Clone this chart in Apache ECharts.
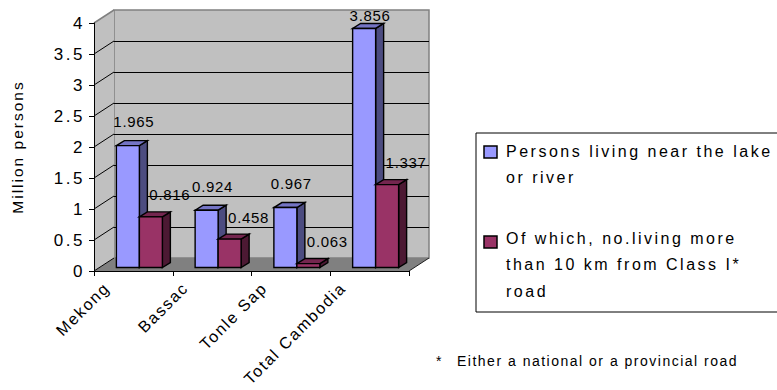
<!DOCTYPE html>
<html>
<head>
<meta charset="utf-8">
<script src="https://cdn.jsdelivr.net/npm/echarts@6/dist/echarts.min.js"></script>
<style>
  html, body { margin: 0; padding: 0; background: #ffffff; }
  #chart { width: 777px; height: 390px; }
  /* the chart's text is set wide, with open letter spacing */
  #chart text { letter-spacing: 2px; }
  #chart text[style*="17px"] { letter-spacing: 2.5px; }
  #chart text[style*="16px"] { letter-spacing: 2.5px; }
  #chart text[style*="15.5px"] { letter-spacing: 2px; }
  #chart text[style*="15px"] { letter-spacing: 0.7px; }
  #chart text[style*="14px"] { letter-spacing: 1.5px; }
  #chart text[style*="16.2px"] { letter-spacing: 1.7px; }
</style>
</head>
<body>
<div id="chart"></div>
<script>
// ---- data ----
const categories = ['Mekong', 'Bassac', 'Tonle Sap', 'Total Cambodia'];
const nearWater = [1.965, 0.924, 0.967, 3.856];
const farFromRoad = [0.816, 0.458, 0.063, 1.337];
const yMin = 0, yMax = 4, yStep = 0.5;
const yName = 'Million persons';
const legendNames = [
  'Persons living near the lake\nor river',
  'Of which, no.living more\nthan 10 km from Class I*\nroad'
];
const footnoteMark = '*';
const footnoteText = 'Either a national or a provincial road';

// ---- 3D look ----
const FONT = 'Liberation Sans, Arial, sans-serif';
const WALL_DEPTH = [20, -13];     // offset of the back wall from the front plane
const BAR_SHIFT = [5, -3.5];      // bars stand a little behind the front plane
const BAR_DEPTH = [8, -5];        // thickness of each column
const BAR_FRAC = 0.292;           // column width as a share of the category band
const palette = [
  { front: '#9999ff', side: '#4c4c80', top: '#7474c4' },
  { front: '#993366', side: '#4c1933', top: '#74264f' }
];
const LABEL_DX = [6, 19];
const LABEL_DY = [24, 22];

const chart = echarts.init(document.getElementById('chart'), null, { renderer: 'svg' });

function wallRenderer(params, api) {
  const cs = params.coordSys;
  const x = cs.x, y = cs.y, w = cs.width, h = cs.height;
  const dx = WALL_DEPTH[0], dy = WALL_DEPTH[1];
  const children = [];
  // floor
  children.push({
    type: 'polygon',
    shape: { points: [[x, y + h], [x + w, y + h], [x + w + dx, y + h + dy], [x + dx, y + h + dy]] },
    style: { fill: '#808080', stroke: null }
  });
  // left side wall
  children.push({
    type: 'polygon',
    shape: { points: [[x, y], [x + dx, y + dy], [x + dx, y + h + dy], [x, y + h]] },
    style: { fill: '#c0c0c0', stroke: null }
  });
  // diagonal grid lines on the side wall
  for (let v = yMin; v < yMax - 1e-9; v += yStep) {
    const py = api.coord([0, v])[1];
    children.push({
      type: 'line',
      shape: { x1: x, y1: py, x2: x + dx, y2: py + dy },
      style: { stroke: '#000', lineWidth: 1 }
    });
  }
  // upper edge of the side wall
  children.push({
    type: 'line',
    shape: { x1: x, y1: y, x2: x + dx, y2: y + dy },
    style: { stroke: '#808080', lineWidth: 1.5 }
  });
  // right edge of the floor
  children.push({
    type: 'line',
    shape: { x1: x + w, y1: y + h, x2: x + w + dx, y2: y + h + dy },
    style: { stroke: '#202020', lineWidth: 1 }
  });
  return { type: 'group', children: children };
}

function barRenderer(idx) {
  const col = palette[idx];
  return function (params, api) {
    const cat = api.value(0);
    const val = api.value(1);
    const basePt = api.coord([cat, 0]);
    const topY = api.coord([cat, val])[1];
    const band = api.size([1, 0])[0];
    const w = band * BAR_FRAC;
    const x0 = basePt[0] + (idx === 0 ? -w : 0) + 1 + BAR_SHIFT[0];
    const yT = topY + BAR_SHIFT[1];
    const yB = basePt[1] + BAR_SHIFT[1];
    const ddx = BAR_DEPTH[0], ddy = BAR_DEPTH[1];
    const edge = { stroke: '#000', lineWidth: 1.4, lineJoin: 'miter' };
    return {
      type: 'group',
      children: [
        {
          type: 'polygon',
          shape: { points: [[x0 + w, yT], [x0 + w + ddx, yT + ddy], [x0 + w + ddx, yB + ddy], [x0 + w, yB]] },
          style: Object.assign({ fill: col.side }, edge)
        },
        {
          type: 'polygon',
          shape: { points: [[x0, yT], [x0 + w, yT], [x0 + w + ddx, yT + ddy], [x0 + ddx, yT + ddy]] },
          style: Object.assign({ fill: col.top }, edge)
        },
        {
          type: 'rect',
          shape: { x: x0, y: yT, width: w, height: yB - yT },
          style: Object.assign({ fill: col.front }, edge)
        },
        {
          type: 'text',
          x: x0 + w / 2 + LABEL_DX[idx],
          y: Math.max(15, yT - LABEL_DY[idx]),
          style: {
            text: val.toFixed(3),
            fontSize: 15,
            fontFamily: FONT,
            fill: '#000',
            align: 'center',
            verticalAlign: 'middle'
          }
        }
      ]
    };
  };
}

const option = {
  animation: false,
  backgroundColor: '#ffffff',
  grid: [
    { left: 94, right: 368, top: 23, bottom: 119, show: false },
    { left: 114, right: 348, top: 10, bottom: 132, show: true,
      backgroundColor: '#c0c0c0', borderColor: '#808080', borderWidth: 1.5 }
  ],
  xAxis: [
    {
      gridIndex: 0, type: 'category', data: categories, z: 5,
      axisLine: { show: true, lineStyle: { color: '#000', width: 1 } },
      axisTick: { show: true, length: 5, interval: 0, lineStyle: { color: '#000' } },
      axisLabel: {
        interval: 0, rotate: 45, margin: -13, padding: [0, 38, 0, 0],
        fontSize: 16.2, fontFamily: FONT, color: '#000'
      },
      splitLine: { show: false }
    },
    { gridIndex: 1, type: 'category', data: categories, show: false }
  ],
  yAxis: [
    {
      gridIndex: 0, type: 'value', min: yMin, max: yMax, interval: yStep, z: 5,
      name: yName, nameLocation: 'middle', nameGap: 69, nameRotate: 90,
      nameTextStyle: { fontSize: 15.5, fontFamily: FONT, color: '#000' },
      axisLine: { show: true, lineStyle: { color: '#000', width: 1 } },
      axisTick: { show: true, length: 5, inside: false, lineStyle: { color: '#000' } },
      axisLabel: { margin: 9, fontSize: 17, fontFamily: FONT, color: '#000' },
      splitLine: { show: false }
    },
    {
      gridIndex: 1, type: 'value', min: yMin, max: yMax, interval: yStep,
      axisLine: { show: false }, axisTick: { show: false }, axisLabel: { show: false },
      splitLine: { show: true, showMinLine: false, showMaxLine: false,
        lineStyle: { color: '#000', width: 1 } }
    }
  ],
  series: [
    {
      type: 'custom', name: 'walls', xAxisIndex: 0, yAxisIndex: 0, z: 1,
      silent: true, data: [[0, 0]], renderItem: wallRenderer
    },
    {
      type: 'custom', name: legendNames[0], xAxisIndex: 0, yAxisIndex: 0, z: 2,
      data: nearWater.map((v, i) => [i, v]), renderItem: barRenderer(0)
    },
    {
      type: 'custom', name: legendNames[1], xAxisIndex: 0, yAxisIndex: 0, z: 3,
      data: farFromRoad.map((v, i) => [i, v]), renderItem: barRenderer(1)
    }
  ],
  graphic: [
    // legend box
    { type: 'rect', shape: { x: 476, y: 133, width: 330, height: 179 },
      style: { fill: '#ffffff', stroke: '#000', lineWidth: 1 } },
    { type: 'rect', shape: { x: 484, y: 146, width: 13, height: 12 },
      style: { fill: palette[0].front, stroke: '#000', lineWidth: 1.5 } },
    { type: 'text', x: 506, y: 138,
      style: { text: legendNames[0], fontSize: 16, fontFamily: FONT, fill: '#000',
        lineHeight: 26, verticalAlign: 'top', align: 'left' } },
    { type: 'rect', shape: { x: 484, y: 236, width: 13, height: 12 },
      style: { fill: palette[1].front, stroke: '#000', lineWidth: 1.5 } },
    { type: 'text', x: 506, y: 225,
      style: { text: legendNames[1], fontSize: 16, fontFamily: FONT, fill: '#000',
        lineHeight: 26.5, verticalAlign: 'top', align: 'left' } },
    // footnote
    { type: 'text', x: 436, y: 361,
      style: { text: footnoteMark, fontSize: 14, fontFamily: FONT, fill: '#000',
        verticalAlign: 'middle', align: 'left' } },
    { type: 'text', x: 457, y: 361,
      style: { text: footnoteText, fontSize: 14, fontFamily: FONT, fill: '#000',
        verticalAlign: 'middle', align: 'left' } }
  ]
};

chart.setOption(option);
</script>
</body>
</html>
